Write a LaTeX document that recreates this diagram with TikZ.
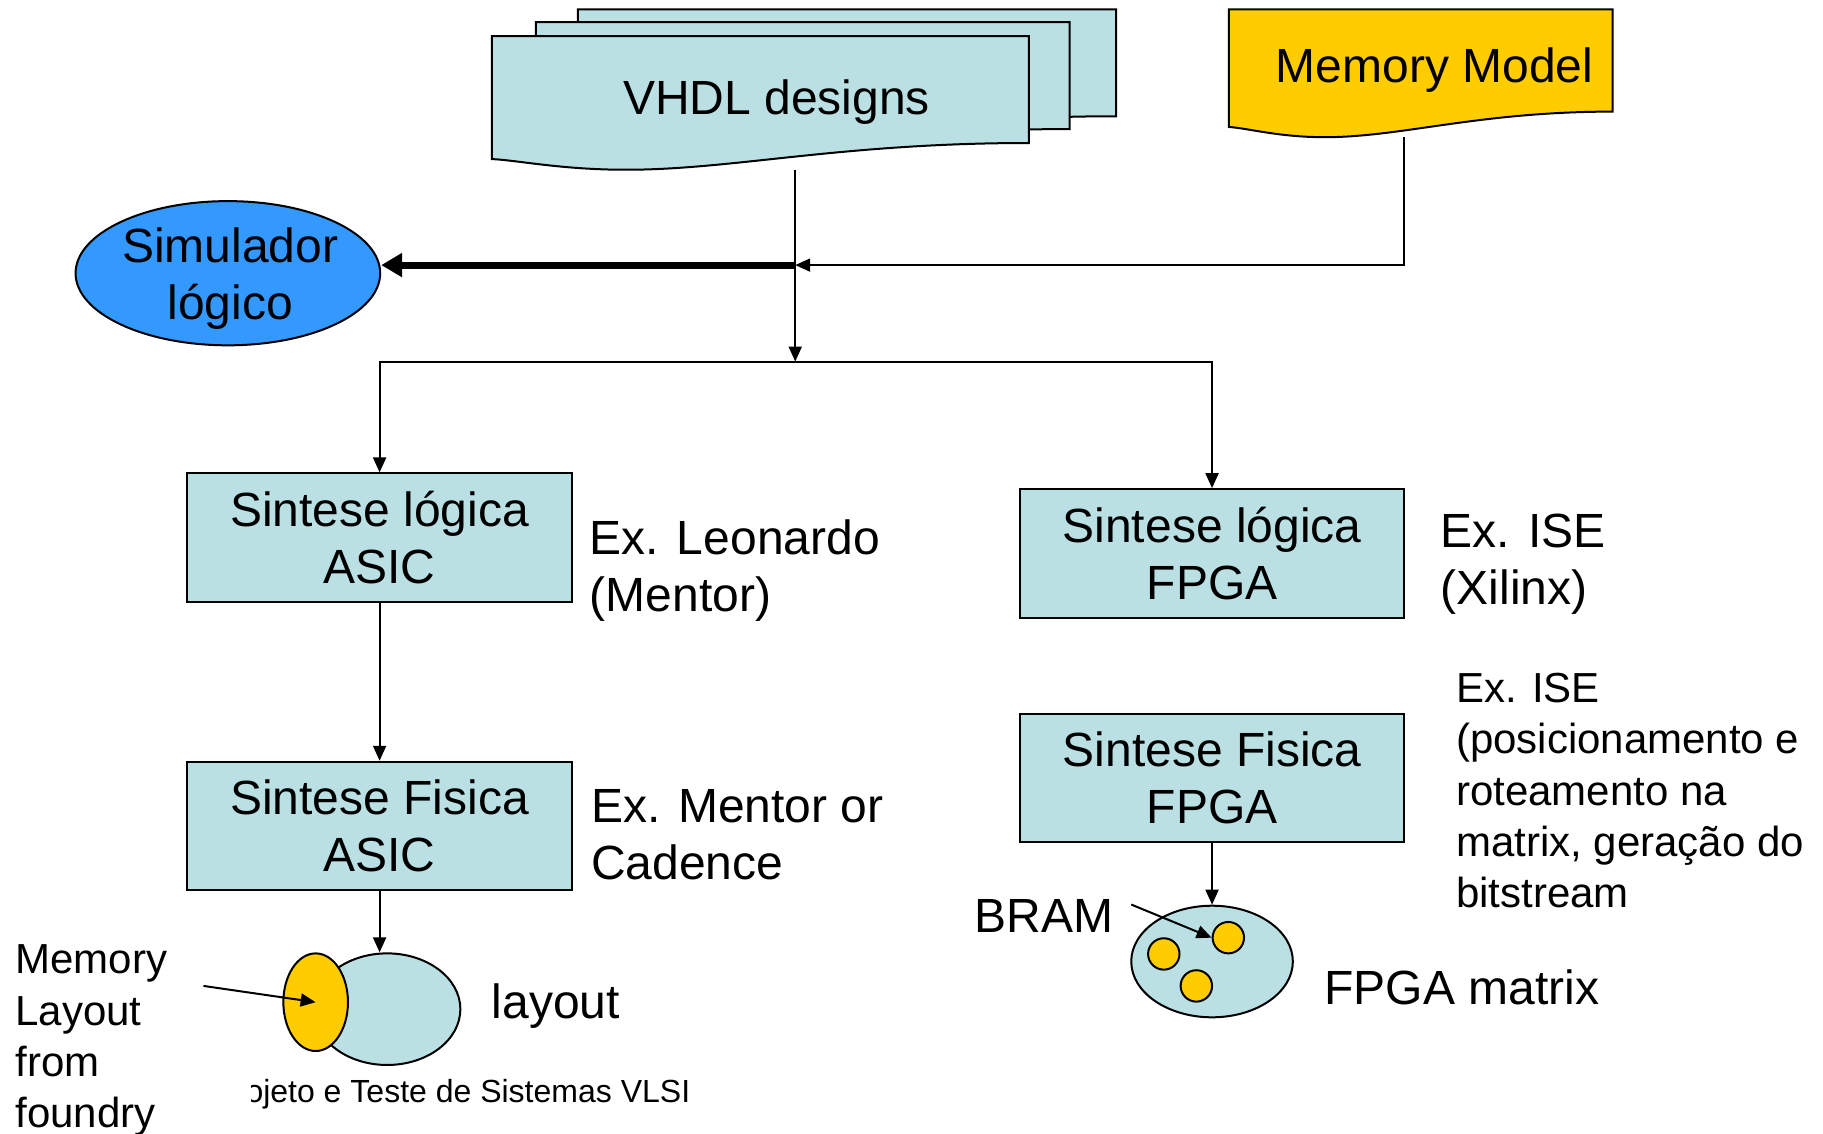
\documentclass[tikz,border=0pt]{standalone}
\usepackage{fontspec}
\setmainfont{Liberation Sans}
\usetikzlibrary{arrows.meta,shapes.geometric}
\definecolor{boxblue}{RGB}{187,224,227}
\definecolor{memyellow}{RGB}{255,204,0}
\definecolor{simblue}{RGB}{51,153,255}
\newcommand\docat[5]{%
  \begin{scope}[shift={(#1,#2)},xscale=#3,yscale=#4]
    \draw[docshape,fill=#5] (0,0) -- (1,0) -- (1,0.80)
      .. controls (0.65,0.80) and (0.45,1) .. (0.25,1)
      .. controls (0.13,1) and (0.05,0.93) .. (0,0.92) -- cycle;
  \end{scope}}
\begin{document}
\begin{tikzpicture}[x=0.5813pt,y=-0.5813pt,
  every node/.style={inner sep=0pt},
  big/.style={font=\fontsize{24}{28.5}\selectfont},
  small/.style={font=\fontsize{21}{25.6}\selectfont},
  procbox/.style={draw, line width=1pt, fill=boxblue, minimum width=192.4pt,
     minimum height=64.3pt, align=center, big},
  conn/.style={line width=1pt, -{Triangle[length=7.5pt,width=6.5pt]}},
  thickconn/.style={line width=3.5pt, -{Triangle[length=10.5pt,width=11.5pt]}},
  docshape/.style={draw, line width=1pt},
  oval/.style={ellipse, draw, line width=1pt}]
\useasboundingbox (0,0) rectangle (1568,975);

% documents
\docat{497}{8}{463}{115}{boxblue}
\docat{461}{19}{459}{115}{boxblue}
\docat{423}{31}{462}{115}{boxblue}
\node[big] (vhdl) at (668,88) {VHDL designs};
\docat{1057}{8}{330}{110}{memyellow}
\node[big] (mm) at (1234,60) {Memory Model};

% simulator
\node[oval, fill=simblue, minimum width=152.3pt, minimum height=72.1pt] (sim) at (196,235) {};
\node[big, align=center] (simtxt) at (198,240) {Simulador\\lógico};

% boxes
\node[procbox] (asicl) at (326.5,462.5) {Sintese lógica\\ASIC};
\node[procbox] (fpgal) at (1042.5,476) {Sintese lógica\\FPGA};
\node[procbox] (asicf) at (326.5,710.5) {Sintese Fisica\\ASIC};
\node[procbox] (fpgaf) at (1042.5,669) {Sintese Fisica\\FPGA};

% layout ellipses
\node[oval, fill=boxblue, minimum width=73.2pt, minimum height=55.8pt] (lay) at (333,868) {};
\node[oval, fill=memyellow, minimum width=32.3pt, minimum height=48.8pt] (memlay) at (271.5,862) {};

% FPGA matrix
\node[oval, fill=boxblue, minimum width=80.8pt, minimum height=55.8pt] (fmat) at (1042.5,827) {};
\node[circle, draw, line width=1pt, fill=memyellow, minimum size=15.7pt] (b1) at (1056.5,806.5) {};
\node[circle, draw, line width=1pt, fill=memyellow, minimum size=15.7pt] (b2) at (1001,820.5) {};
\node[circle, draw, line width=1pt, fill=memyellow, minimum size=15.7pt] (b3) at (1029,848) {};

% connectors
\coordinate (vstem) at (684,146);
\coordinate (mstem) at (1208,118);
\coordinate (junc) at (684,228);
\coordinate (branch) at (684,311);
\coordinate (mlstart) at (175,848);
\coordinate (bramstart) at (973,778);
\draw[conn] (vstem) -- (branch);
\draw[conn] (mstem) |- (junc);
\draw[thickconn] (junc) -- (junc -| sim.east);
\draw[conn] (branch) -| (asicl.north);
\draw[conn] (branch) -| (fpgal.north);
\draw[conn] (asicl) -- (asicf);
\draw[conn] (asicf.south) -- (asicf.south |- lay.north);
\draw[conn] (fpgaf) -- (fmat);
\draw[conn] (mlstart) -- (memlay.center);
\draw[conn] (bramstart) -- (b1.west);

% labels
\node[big, align=left, anchor=west] (exleo) at (507,491) {Ex. Leonardo\\(Mentor)};
\node[big, align=left, anchor=west] (exise1) at (1239,485) {Ex. ISE\\(Xilinx)};
\node[big, align=left, anchor=west] (exmentor) at (508,718) {Ex. Mentor or\\Cadence};
\node[small, align=left, anchor=west] (exise2) at (1252,680) {Ex. ISE\\(posicionamento e\\roteamento na\\matrix, geração do\\bitstream};
\node[small, align=left, anchor=west] (memlaytxt) at (13,895) {Memory\\Layout\\from\\foundry};
\node[big] (laytxt) at (478,865) {layout};
\node[big, anchor=west] (fmattxt) at (1139,849) {FPGA matrix};
\node[big] (bram) at (898,788) {BRAM};

% footer
\begin{scope}
\clip (216,905) rectangle (640,972);
\node[font=\fontsize{16}{19}\selectfont, anchor=east] (footer) at (594,941) {ojeto e Teste de Sistemas VLSI};
\end{scope}
\end{tikzpicture}
\end{document}
